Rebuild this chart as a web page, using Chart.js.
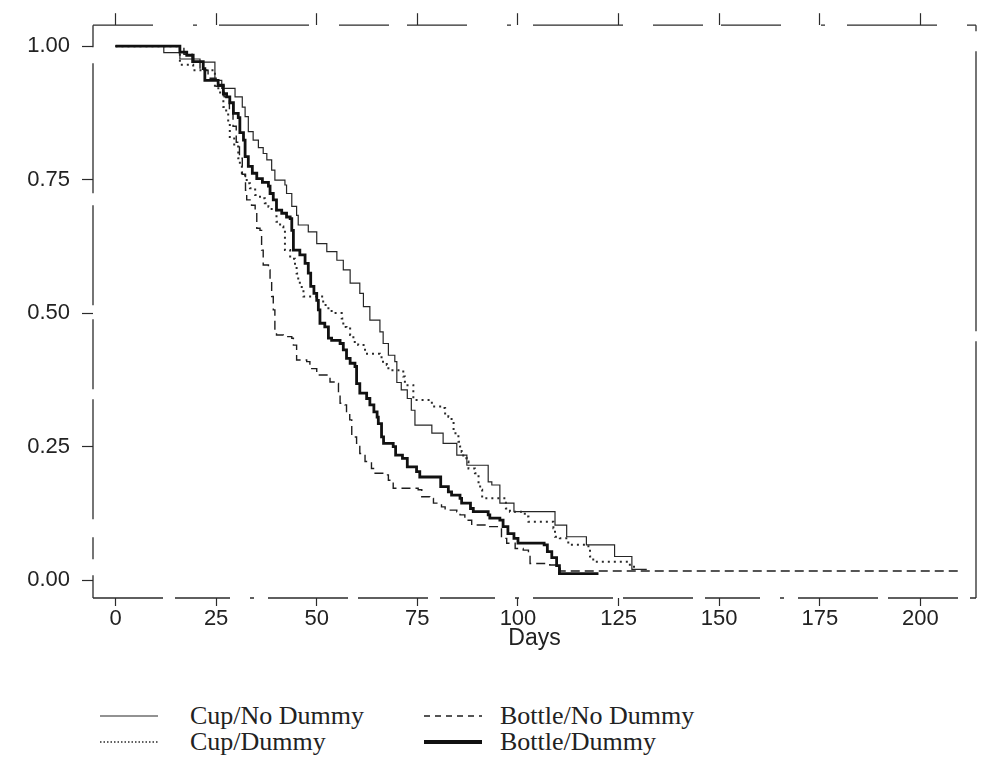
<!DOCTYPE html>
<html><head><meta charset="utf-8">
<script src="https://cdn.jsdelivr.net/npm/chart.js@4.4.1/dist/chart.umd.min.js"></script>
<style>
html,body{margin:0;padding:0;background:#fff;}
#wrap{position:relative;width:983px;height:758px;overflow:hidden;}
#box{position:absolute;left:0;top:0;width:983px;height:670px;}
.lgt{position:absolute;font-family:"Liberation Serif","Times New Roman",serif;font-size:26px;color:#222;line-height:28px;white-space:nowrap;}
.lgs{position:absolute;}
</style></head><body>
<div id="wrap"><div id="box"><canvas id="c"></canvas></div><div id="legend"></div></div>
<script>
const seriesNames = ['Cup/No Dummy', 'Cup/Dummy', 'Bottle/No Dummy', 'Bottle/Dummy'];
const xTickValues = [0, 25, 50, 75, 100, 125, 150, 175, 200];
const yTickValues = [0, 0.25, 0.5, 0.75, 1];
const xTitle = 'Days';

const cupNoDummyDays = [0,12,16,21,24.7,26.4,29.7,31.5,32.2,33,34.2,35.5,36.7,37.6,38.8,39.6,42.1,42.5,43.8,45,45.4,47.9,50,52.5,55,56.6,58.3,60.7,61.6,63.2,65.7,66.5,67.8,69.4,69.9,71,72.5,73.5,74.4,78.6,81.4,84.8,87.3,92.6,93.5,95.5,99,109.2,112.1,117,124,128.3,132];
const cupNoDummySurv = [1,0.988,0.976,0.970,0.936,0.921,0.905,0.886,0.868,0.840,0.824,0.810,0.799,0.787,0.768,0.749,0.740,0.724,0.700,0.683,0.665,0.652,0.630,0.615,0.599,0.581,0.556,0.537,0.512,0.487,0.465,0.443,0.421,0.409,0.370,0.356,0.340,0.318,0.290,0.275,0.256,0.234,0.215,0.184,0.178,0.144,0.128,0.103,0.081,0.066,0.044,0.020,0.020];

const cupDummyDays = [0,16,19.3,24.7,26,26.8,27.5,28,28.4,29.5,30.5,30.9,31.4,32.2,32.6,33.4,34.7,35.9,37.1,38,38.8,40,40.9,41.7,42.1,43.4,44.6,45,45.4,45.8,46.7,51.6,52.9,53.7,56.2,56.6,57.4,58.3,59.1,60.3,62,65.7,66.1,67.4,67.8,71.5,71.9,74,78.1,78.6,81,81.9,82.7,83.5,84,85.2,85.6,86,86.4,87.3,87.7,89.3,90.2,90.6,91.1,97,98,101.7,102.6,108.8,109.2,110.4,112.5,117.5,117.9,118.7,127.8,130];
const cupDummySurv = [1,0.965,0.955,0.921,0.908,0.886,0.877,0.855,0.830,0.812,0.790,0.777,0.762,0.752,0.743,0.734,0.721,0.715,0.706,0.699,0.693,0.671,0.662,0.655,0.618,0.602,0.590,0.574,0.562,0.549,0.531,0.515,0.506,0.500,0.490,0.474,0.471,0.459,0.446,0.440,0.424,0.421,0.409,0.403,0.393,0.381,0.365,0.337,0.334,0.325,0.322,0.309,0.306,0.297,0.275,0.259,0.250,0.240,0.228,0.222,0.209,0.200,0.181,0.169,0.153,0.134,0.128,0.119,0.109,0.097,0.081,0.078,0.066,0.059,0.044,0.034,0.025,0.025];

const bottleNoDummyDays = [0,17,19,21,23,25,27,28.3,29.2,30,30.8,31.5,32.3,32.6,33.8,34.7,35.1,35.9,36.3,36.7,38,38.4,38.8,39.2,39.6,40,41.7,43.8,44.2,45,47.5,48.3,50,53.3,55,55.4,55.8,57,57.4,58.2,58.7,59.9,60.7,62,63.6,64.5,67,67.8,69,75.2,76.1,78.1,79,81,81.9,84.8,85.6,86.8,88.5,91.8,95.9,97.2,99.3,101.3,102.6,103,107.9,110.5,210];
const bottleNoDummySurv = [1,0.985,0.970,0.955,0.940,0.925,0.905,0.880,0.850,0.820,0.790,0.760,0.730,0.712,0.702,0.690,0.659,0.655,0.618,0.590,0.581,0.562,0.531,0.506,0.470,0.459,0.456,0.453,0.440,0.412,0.409,0.396,0.384,0.371,0.368,0.350,0.331,0.328,0.312,0.300,0.268,0.256,0.237,0.222,0.209,0.200,0.197,0.187,0.172,0.169,0.156,0.153,0.144,0.137,0.131,0.128,0.122,0.112,0.103,0.100,0.078,0.069,0.059,0.056,0.047,0.031,0.028,0.017,0.017];

const bottleDummyDays = [0,16,17.7,19.3,21.8,22.2,25.5,26.8,27.6,28.4,29.3,30.5,30.9,31.8,32.2,33,34,35.1,36.5,38,38.4,39.2,40,41.3,42.5,43.4,43.8,44.2,45.8,47.1,47.9,48.5,49.3,50,50.4,50.8,52,52.9,53.7,55.8,56.6,57.4,58.3,59.5,59.9,60.7,62.4,63.2,64.2,65,65.3,66.1,66.6,69,69.6,71.3,72.5,74.8,75.6,80.8,82.7,83.5,85.6,86,88.2,88.9,92.6,93,95.5,96.3,97.5,99,100,106.5,107.3,108.4,109.6,110.3,120];
const bottleDummySurv = [1,0.989,0.983,0.971,0.958,0.936,0.927,0.911,0.905,0.894,0.874,0.866,0.838,0.824,0.793,0.775,0.762,0.752,0.745,0.738,0.724,0.712,0.693,0.687,0.680,0.677,0.655,0.618,0.609,0.593,0.575,0.550,0.537,0.524,0.506,0.481,0.474,0.453,0.449,0.443,0.431,0.415,0.406,0.400,0.368,0.350,0.340,0.328,0.315,0.305,0.293,0.268,0.256,0.250,0.234,0.228,0.212,0.203,0.193,0.175,0.165,0.159,0.153,0.144,0.134,0.128,0.122,0.116,0.112,0.100,0.087,0.078,0.069,0.066,0.053,0.042,0.027,0.012,0.012];

const seriesDays = [cupNoDummyDays, cupDummyDays, bottleNoDummyDays, bottleDummyDays];
const seriesSurv = [cupNoDummySurv, cupDummySurv, bottleNoDummySurv, bottleDummySurv];
const lineWidths = [1.2, 2.0, 1.4, 2.8];
const lineDashes = [[], [2, 4], [9, 5], []];
const lineColors = ['#262626', '#2a2a2a', '#1e1e1e', '#111111'];

const toPoints = (d, s) => d.map((x, i) => ({x: x, y: s[i]}));

const datasets = seriesNames.map((name, i) => ({
  label: name,
  data: toPoints(seriesDays[i], seriesSurv[i]),
  stepped: 'before',
  borderColor: lineColors[i],
  borderWidth: lineWidths[i],
  borderDash: lineDashes[i],
  borderCapStyle: 'butt',
  borderJoinStyle: 'miter',
  pointRadius: 0,
  fill: false,
  xAxisID: 'x',
  yAxisID: 'y',
  order: 4 - i
}));

const X_MIN = -5.59, X_MAX = 213.8, Y_MIN = -0.0337, Y_MAX = 1.0393;
const tickFont = {family: "'Liberation Sans', Arial, sans-serif", size: 22};
const frameColor = '#2b2b2b';

// scanned-looking broken frame around the plot area
const framePlugin = {
  id: 'scanFrame',
  afterDatasetsDraw(chart) {
    const {ctx, chartArea: a} = chart;
    ctx.save();
    ctx.strokeStyle = frameColor;
    ctx.lineWidth = 1.3;
    ctx.lineCap = 'butt';
    const seg = (x1, y1, x2, y2, dash) => {
      ctx.setLineDash(dash);
      ctx.beginPath(); ctx.moveTo(x1, y1); ctx.lineTo(x2, y2); ctx.stroke();
    };
    seg(a.left, a.top, a.right, a.top, [60, 40, 4, 22, 90, 30, 50, 18]);
    seg(a.left, a.bottom, a.right, a.bottom, [70, 12, 55, 20, 4, 14, 80, 10]);
    seg(a.left, a.top, a.left, a.bottom, [22, 16, 130, 12, 100, 14, 70, 10, 120, 18]);
    seg(a.right, a.top, a.right, a.bottom, [6, 20, 280, 10, 400]);
    ctx.restore();
  }
};

new Chart(document.getElementById('c'), {
  type: 'line',
  data: {datasets: datasets},
  plugins: [framePlugin],
  options: {
    responsive: true,
    maintainAspectRatio: false,
    animation: false,
    layout: {padding: 0},
    plugins: {
      legend: {display: false},
      tooltip: {enabled: false}
    },
    scales: {
      x: {
        type: 'linear', position: 'bottom', min: X_MIN, max: X_MAX,
        afterBuildTicks: s => { s.ticks = xTickValues.map(v => ({value: v})); },
        afterFit: s => { s.height = 72; },
        grid: {drawOnChartArea: false, drawTicks: true, tickLength: 8, tickColor: frameColor, tickWidth: 1.2},
        border: {display: false},
        ticks: {font: tickFont, color: '#222', padding: 0, maxRotation: 0, autoSkip: false},
        title: {display: true, text: xTitle, color: '#222',
          font: {family: "'Liberation Sans', Arial, sans-serif", size: 23, weight: 'normal'},
          padding: {top: 0, bottom: 18}}
      },
      x2: {
        type: 'linear', axis: 'x', position: 'top', min: X_MIN, max: X_MAX,
        afterBuildTicks: s => { s.ticks = xTickValues.map(v => ({value: v})); },
        afterFit: s => { s.height = 25; },
        grid: {drawOnChartArea: false, drawTicks: true, tickLength: 12, tickColor: frameColor, tickWidth: 1.2},
        border: {display: false},
        ticks: {display: false}
      },
      y: {
        type: 'linear', position: 'left', min: Y_MIN, max: Y_MAX,
        afterBuildTicks: s => { s.ticks = yTickValues.map(v => ({value: v})); },
        afterFit: s => { s.width = 93; },
        grid: {drawOnChartArea: false, drawTicks: true, tickLength: 11, tickColor: frameColor, tickWidth: 1.2},
        border: {display: false},
        ticks: {font: tickFont, color: '#222', padding: 12, callback: v => Number(v).toFixed(2)}
      },
      y2: {
        type: 'linear', axis: 'y', position: 'right', min: Y_MIN, max: Y_MAX,
        afterFit: s => { s.width = 7; },
        grid: {drawOnChartArea: false, drawTicks: false},
        border: {display: false},
        ticks: {display: false}
      }
    }
  }
});

// HTML legend (2 columns x 2 rows), built from the series names and styles
const legendPos = [
  {sx: 100, tx: 190, cy: 716},
  {sx: 100, tx: 190, cy: 742},
  {sx: 424, tx: 500, cy: 716},
  {sx: 424, tx: 500, cy: 742}
];
const lg = document.getElementById('legend');
seriesNames.forEach((name, i) => {
  const p = legendPos[i];
  const svgNS = 'http://www.w3.org/2000/svg';
  const svg = document.createElementNS(svgNS, 'svg');
  svg.setAttribute('width', '60'); svg.setAttribute('height', '10');
  svg.setAttribute('class', 'lgs');
  svg.style.left = p.sx + 'px'; svg.style.top = (p.cy - 5) + 'px';
  const ln = document.createElementNS(svgNS, 'line');
  ln.setAttribute('x1', '0'); ln.setAttribute('x2', '58');
  ln.setAttribute('y1', '5'); ln.setAttribute('y2', '5');
  ln.setAttribute('stroke', lineColors[i]);
  ln.setAttribute('stroke-width', i === 3 ? 4 : (i === 1 ? 1.6 : lineWidths[i]));
  if (lineDashes[i].length) ln.setAttribute('stroke-dasharray', i === 1 ? '1.5,2' : '6,5');
  svg.appendChild(ln);
  lg.appendChild(svg);
  const t = document.createElement('div');
  t.className = 'lgt';
  t.textContent = name;
  t.style.left = p.tx + 'px';
  t.style.top = (p.cy - 14) + 'px';
  lg.appendChild(t);
});
</script>
</body></html>
